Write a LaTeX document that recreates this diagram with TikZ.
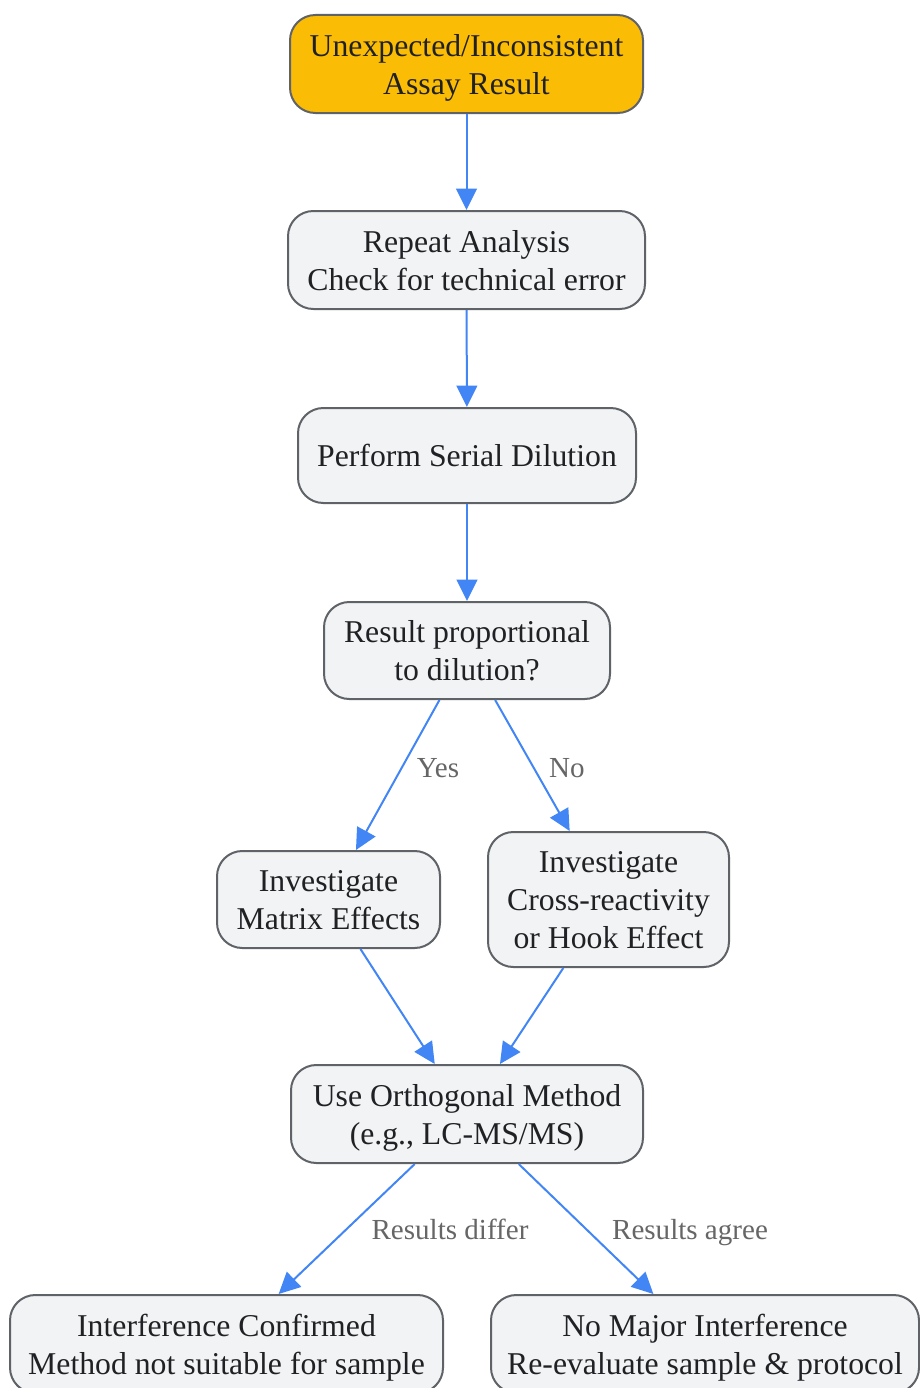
\documentclass[tikz,border=0pt]{standalone}
\usepackage{fontspec}
\setmainfont{Liberation Serif}
\usetikzlibrary{arrows.meta, positioning}
\definecolor{GYellow}{HTML}{FBBC05}
\definecolor{GBlue}{HTML}{4285F4}
\definecolor{BoxFill}{HTML}{F1F3F4}
\definecolor{BoxLine}{HTML}{5F6368}
\definecolor{TextDark}{HTML}{202124}
\definecolor{LabelGray}{HTML}{666666}

\begin{document}
\begin{tikzpicture}[
    x=0.75pt, y=-0.75pt,  % one unit = one pixel of the 920x1388 frame, y down
    box/.style={draw=BoxLine, line width=1.5pt, fill=BoxFill, rounded corners=19pt,
        align=center, inner xsep=2pt, inner ysep=0pt, text=TextDark, text depth=0pt,
        font=\fontsize{23.8}{28.5}\selectfont},
    flow/.style={GBlue, line width=1.5pt, -{Triangle[length=16pt, width=15.5pt]}},
    lbl/.style={text=LabelGray, anchor=base, font=\fontsize{21.8}{26}\selectfont}
]
    % === FRAME ===
    \useasboundingbox (0, 0) rectangle (920, 1388);

    % === MAIN CHAIN ===
    \node[box, fill=GYellow, minimum width=264.75pt, minimum height=73.5pt] (NodeStart) at (466.5, 64)
        {Unexpected/Inconsistent\\Assay Result};
    \node[box, minimum width=267.75pt, minimum height=73.5pt] (NodeRepeat) at (466.5, 260)
        {Repeat Analysis\\Check for technical error};
    \node[box, minimum width=253.5pt, minimum height=71.25pt] (NodeDilution) at (467, 455.5)
        {Perform Serial Dilution};
    \node[box, minimum width=214.5pt, minimum height=72.75pt] (NodeCheck) at (467, 650.5)
        {Result proportional\\to dilution?};

    % === BRANCHES ===
    \node[box, minimum width=167.25pt, minimum height=72.75pt] (NodeMatrix) at (328.5, 899.5)
        {Investigate\\Matrix Effects};
    \node[box, minimum width=180.75pt, minimum height=101.25pt] (NodeCross) at (608.5, 899.5)
        {Investigate\\Cross-reactivity\\or Hook Effect};

    % === ORTHOGONAL CHECK ===
    \node[box, minimum width=264pt, minimum height=73.5pt] (NodeOrtho) at (467, 1114)
        {Use Orthogonal Method\\(e.g., LC-MS/MS)};

    % === OUTCOMES (cut by the lower frame edge) ===
    \node[box, minimum width=324.75pt, minimum height=73.5pt] (NodeConfirmed) at (226.5, 1344)
        {Interference Confirmed\\Method not suitable for sample};
    \node[box, minimum width=321pt, minimum height=73.5pt] (NodeNone) at (705, 1344)
        {No Major Interference\\Re-evaluate sample \& protocol};

    % === CONNECTORS ===
    \draw[flow] (NodeStart) -- (NodeRepeat);
    \draw[flow] (NodeRepeat) -- (NodeDilution);
    \draw[flow] (NodeDilution) -- (NodeCheck);
    \draw[flow] (NodeCheck) -- (NodeMatrix);
    \draw[flow] (NodeCheck) -- (NodeCross);
    \draw[flow] (NodeMatrix) -- (NodeOrtho);
    \draw[flow] (NodeCross) -- (NodeOrtho);
    \draw[flow] (NodeOrtho) -- (NodeConfirmed);
    \draw[flow] (NodeOrtho) -- (NodeNone);

    % Edge labels
    \node[lbl] (LabelYes) at (438, 777) {Yes};
    \node[lbl] (LabelNo) at (567, 777) {No};
    \node[lbl] (LabelDiffer) at (450, 1239) {Results differ};
    \node[lbl] (LabelAgree) at (690, 1239) {Results agree};
\end{tikzpicture}
\end{document}
